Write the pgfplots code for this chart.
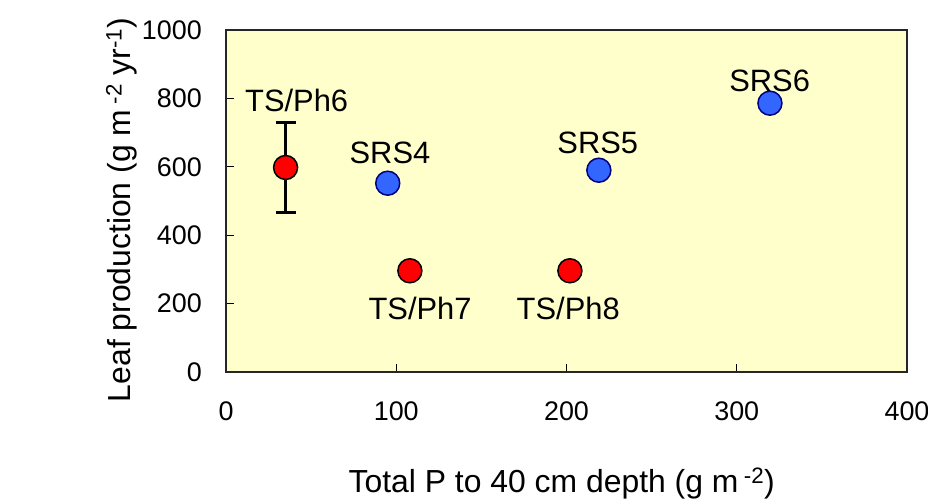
\documentclass[border=0pt]{standalone}
\usepackage{pgfplots}
\pgfplotsset{compat=1.18}
\usepackage{fontspec}
\setmainfont{Liberation Sans}
\definecolor{bgyellow}{RGB}{255,255,204}
\definecolor{ptred}{RGB}{255,0,0}
\definecolor{ptblue}{RGB}{51,102,255}
\definecolor{ptnavy}{RGB}{0,0,128}
\begin{document}
\begin{tikzpicture}
\path[use as bounding box] (-226bp,-130bp) rectangle (702bp,372bp);
\begin{axis}[
  at={(0,0)}, anchor=south west,
  scale only axis, width=681bp, height=342bp,
  xmin=0, xmax=400, ymin=0, ymax=1000,
  xtick={0,100,200,300,400}, ytick={0,200,400,600,800,1000},
  tick align=inside, xtick pos=bottom, ytick pos=left,
  major tick length=8bp,
  every tick/.style={black, line width=1bp},
  axis line style={line width=2bp, black!85},
  axis background/.style={fill=bgyellow},
  /pgf/number format/assume math mode=true,
  /pgf/number format/1000 sep={},
  ticklabel style={font=\fontsize{27}{32}\selectfont},
  xticklabel style={anchor=center, inner sep=0pt, yshift=-39bp},
  yticklabel style={anchor=east, inner sep=0pt, xshift=-24bp},
  label style={font=\fontsize{32}{38}\selectfont},
  xlabel={Total P to 40 cm depth (g m\,\textsuperscript{-2})},
  ylabel={Leaf production (g m\,\textsuperscript{-2} yr\textsuperscript{-1})},
  xlabel style={at={(axis description cs:0.493,-0.327)}, anchor=center},
  ylabel style={at={(axis description cs:-0.1532,0.474)}, anchor=center, rotate=0},
  clip=false,
]
% TS/Ph6 with error bar
\addplot[only marks, mark=*, mark size=12bp, mark options={fill=ptred, draw=black, line width=1.5bp},
  error bars/.cd, y dir=both, y explicit,
  error bar style={line width=2.4bp, black},
  error mark options={rotate=90, mark size=10bp, line width=2.4bp, black}]
  coordinates {(35,598) +- (0,132)};
% red (TS/Ph) points
\addplot[only marks, mark=*, mark size=12bp, mark options={fill=ptred, draw=black, line width=1.5bp}]
  coordinates {(108,296) (202,296)};
% blue (SRS) points
\addplot[only marks, mark=*, mark size=12bp, mark options={fill=ptblue, draw=ptnavy, line width=1.5bp}]
  coordinates {(95,552) (219,590) (319.5,786)};
\begin{scope}[every node/.style={font=\fontsize{31}{36}\selectfont, anchor=base, inner sep=0pt}]
\node at (axis cs:41.5,761) {TS/Ph6};
\node at (axis cs:96.3,610) {SRS4};
\node at (axis cs:114,154) {TS/Ph7};
\node at (axis cs:201,154) {TS/Ph8};
\node at (axis cs:218.4,639) {SRS5};
\node at (axis cs:319.3,820) {SRS6};
\end{scope}
\end{axis}
\end{tikzpicture}
\end{document}
